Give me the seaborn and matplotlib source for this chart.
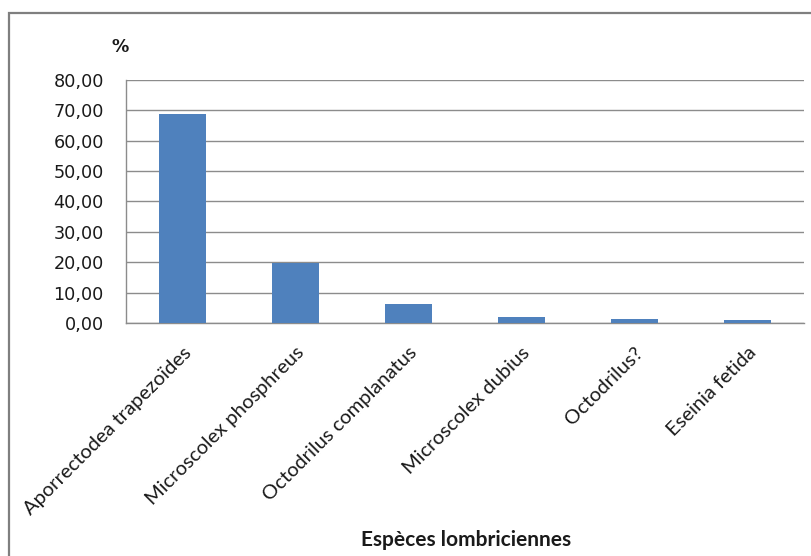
import matplotlib
matplotlib.use("Agg")
import matplotlib.pyplot as plt
from matplotlib.patches import Rectangle
from matplotlib.ticker import FixedLocator, FuncFormatter
import seaborn as sns
import pandas as pd

# Relative abundance of earthworm species (%)
species = [
    "Aporrectodea trapezoïdes",
    "Microscolex phosphreus",
    "Octodrilus complanatus",
    "Microscolex dubius",
    "Octodrilus?",
    "Eseinia fetida",
]
percent = [68.7, 19.8, 6.2, 1.9, 1.2, 0.9]
y_ticks = [0, 10, 20, 30, 40, 50, 60, 70, 80]

df = pd.DataFrame({"espece": species, "pct": percent})

sns.set_style("white")
plt.rcParams["font.family"] = ["DejaVu Sans"]

fig = plt.figure(figsize=(8.12, 5.56), dpi=100)
ax = fig.add_axes([126 / 812, 1 - 323 / 556, (804 - 126) / 812, (323 - 80) / 556])

sns.barplot(data=df, x="espece", y="pct", color="#4F81BD", width=0.41,
            saturation=1, edgecolor="none", ax=ax, zorder=3)

grid_c = "#8C8C8C"
ax.set_ylim(0, 80)
ax.set_xlim(-0.5, len(species) - 0.5)
ax.yaxis.set_major_locator(FixedLocator(y_ticks))
ax.yaxis.set_major_formatter(FuncFormatter(lambda v, p: f"{v:.2f}".replace(".", ",")))
ax.grid(axis="y", color=grid_c, linewidth=1.0, zorder=0)
ax.tick_params(axis="y", which="major", length=5, width=1, color=grid_c,
               labelsize=12.7, pad=11, labelcolor="#1a1a1a")

# Category labels at bar centres, tick marks at category boundaries
ax.set_xticks(range(len(species)))
ax.set_xticklabels(species, rotation=45, ha="right", va="top",
                   rotation_mode="anchor", fontfamily=["Lato", "DejaVu Sans"],
                   fontsize=14.5, color="#1a1a1a")
ax.tick_params(axis="x", which="major", length=0, pad=15)
ax.set_xticks([i - 0.5 for i in range(len(species) + 1)], minor=True)
ax.tick_params(axis="x", which="minor", length=5, width=1, color=grid_c,
               direction="out")

for side in ("top", "right"):
    ax.spines[side].set_visible(False)
for side in ("left", "bottom"):
    ax.spines[side].set_color(grid_c)
    ax.spines[side].set_linewidth(1.0)

ax.set_xlabel("")
ax.set_ylabel("")

fig.text(120 / 812, 1 - 47 / 556, "%", ha="center", va="center",
         fontsize=12.5, fontweight="bold", color="#1a1a1a")
fig.text(466 / 812, 1 - 540 / 556, "Espèces lombriciennes", ha="center",
         va="center", fontsize=15, fontweight="bold",
         fontfamily=["Lato", "DejaVu Sans"], color="#1a1a1a")

# Chart-area frame
fig.patches.append(Rectangle((9 / 812, -0.05), 1.1, 1 - 13 / 556 + 0.05,
                             transform=fig.transFigure, fill=False,
                             edgecolor="#7F7F7F", linewidth=1.6))

fig.savefig("out.png", dpi=100)
